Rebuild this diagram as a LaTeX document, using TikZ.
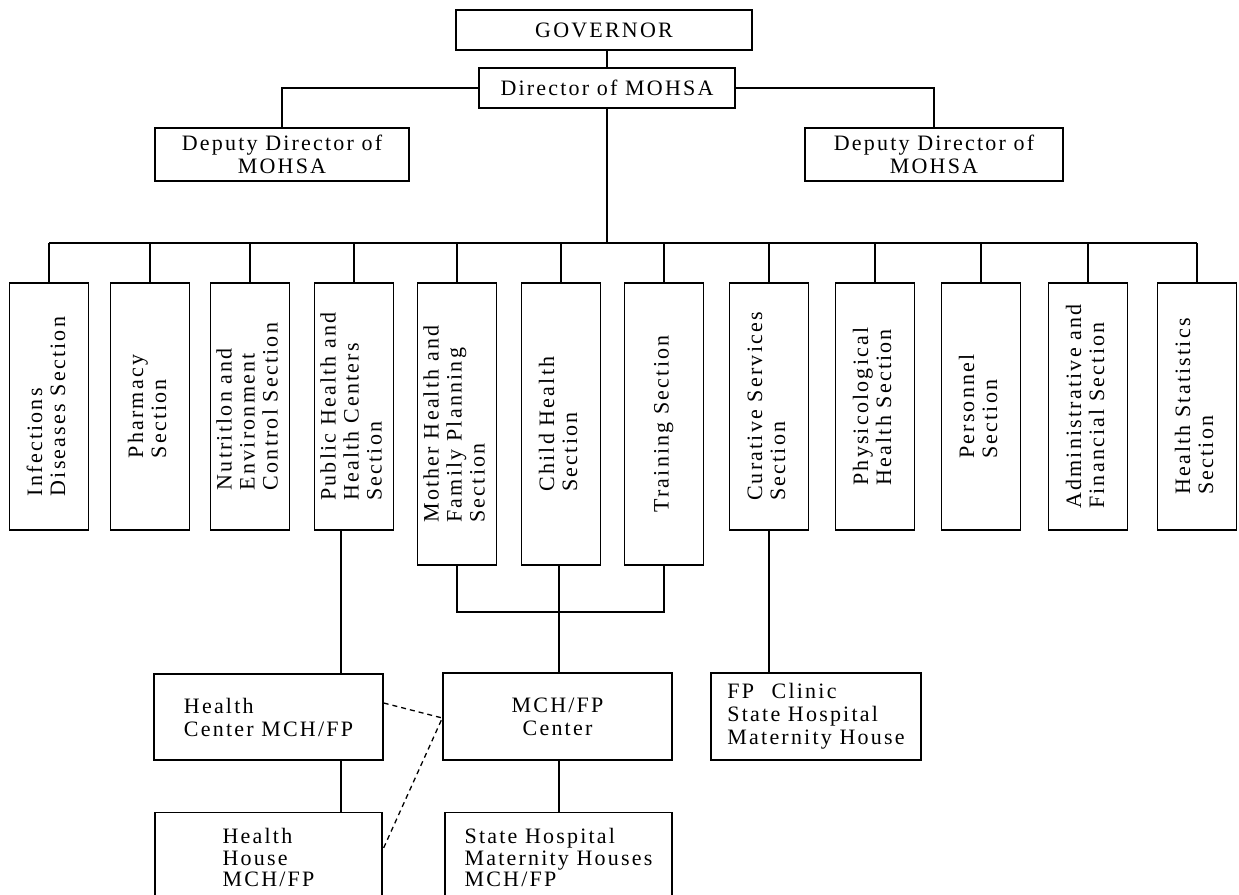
\documentclass[tikz,border=0pt]{standalone}
\usepackage{fontspec}
\setmainfont{Liberation Serif}[LetterSpace=10]
\usetikzlibrary{calc}
\newcommand\vtext[1]{\rotatebox{90}{\begin{tabular}{@{}l@{}}#1\end{tabular}}}
\begin{document}
\begin{tikzpicture}[x=1pt,y=-1pt,
  every node/.style={font=\fontsize{22}{23}\selectfont},
  box/.style={draw, line width=1.4pt, inner sep=0pt, align=center},
  sec/.style={box, minimum width=79, minimum height=247},
  seclong/.style={box, minimum width=79, minimum height=282},
  cutbox/.style={box, anchor=north, minimum width=227, inner ysep=16, align=left,
    font=\fontsize{22}{21.5}\selectfont},
  conn/.style={line width=1.4pt},
  dashconn/.style={line width=1.3pt, dash pattern=on 5pt off 4pt}]
\useasboundingbox (0,0) rectangle (1239,894);
\fill[white] (0,0) rectangle (1239,894);

% top
\node[box, minimum width=296, minimum height=40] (gov) at (604,30) {GOVERNOR};
\node[box, minimum width=256, minimum height=40] (dir) at (607,88) {Director of MOHSA};
\node[box, minimum width=254, minimum height=53] (depl) at (282,154.5) {Deputy Director of\\MOHSA};
\node[box, minimum width=258, minimum height=53] (depr) at (934,154.5) {Deputy Director of\\MOHSA};

% sections
\node[sec] (inf) at (49,406.5) {\vtext{Infections\\Diseases Section}};
\node[sec] (pha) at (150,406.5) {\vtext{Pharmacy\\Section}};
\node[sec] (nut) at (250,406.5) {\vtext{Nutritlon and\\Environment\\Control Section}};
\node[sec] (pub) at (354,406.5) {\vtext{Public Health and\\Health Centers\\Section}};
\node[seclong] (mot) at (457,424) {\vtext{Mother Health and\\Family Planning\\Section}};
\node[seclong] (chi) at (561,424) {\vtext{Child Health\\Section}};
\node[seclong] (tra) at (664,424) {\vtext{Training Section}};
\node[sec] (cur) at (769,406.5) {\vtext{Curative Services\\Section}};
\node[sec] (phy) at (875,406.5) {\vtext{Physicological\\Health Section}};
\node[sec] (per) at (981,406.5) {\vtext{Personnel\\Section}};
\node[sec] (adm) at (1088,406.5) {\vtext{Administrative and\\Financial Section}};
\node[sec] (sta) at (1197,406.5) {\vtext{Health Statistics\\Section}};

% lower boxes
\node[box, minimum width=229, minimum height=86, align=left] (hc) at (268.5,717) {Health\\Center MCH/FP};
\node[box, minimum width=229, minimum height=87] (mch) at (557.5,716.5) {MCH/FP\\Center};
\node[box, minimum width=210, minimum height=87, align=left] (fpc) at (816,716.5) {FP\hspace{0.8em}Clinic\\State Hospital\\Maternity House};
\node[cutbox] (hh) at (268.5,812) {Health\\House\\MCH/FP};
\node[cutbox] (sh) at (558.5,812) {State Hospital\\Maternity Houses\\MCH/FP};

% connectors top
\draw[conn] (dir.north) -- (dir.north |- gov.south);
\draw[conn] (dir.west) -| (depl.north);
\draw[conn] (dir.east) -| (depr.north);
\coordinate (bus) at (607,243);
\draw[conn] (dir.south) -- (bus);
\draw[conn] (inf.north |- bus) -- (sta.north |- bus);
\foreach \n in {inf,pha,nut,pub,mot,chi,tra,cur,phy,per,adm,sta}
  \draw[conn] (\n.north) -- (\n.north |- bus);

% connectors bottom
\coordinate (br) at (559,612);
\coordinate (pl) at (341,0);
\draw[conn] (mot.south) -- (mot.south |- br) -- (tra.south |- br) -- (tra.south);
\draw[conn] (br |- chi.south) -- (br |- mch.north);
\draw[conn] (br |- mch.south) -- (br |- sh.north);
\draw[conn] (cur.south) -- (cur.south |- fpc.north);
\draw[conn] (pl |- pub.south) -- (pl |- hc.north);
\draw[conn] (pl |- hc.south) -- (pl |- hh.north);
\draw[dashconn] ($(hc.east)+(0,-14)$) -- ($(mch.west)+(0,1.5)$) -- ($(hh.north east)+(0,38)$);
\end{tikzpicture}
\end{document}
